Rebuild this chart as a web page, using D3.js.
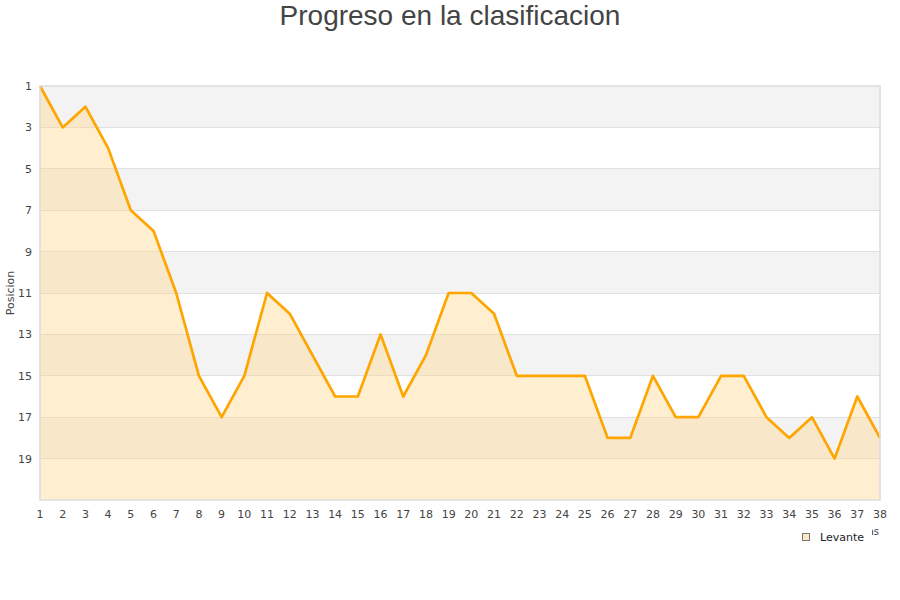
<!DOCTYPE html>
<html><head><meta charset="utf-8">
<script src="https://cdn.jsdelivr.net/npm/d3@7"></script>
<style>body{margin:0;background:#fff}svg{display:block}</style>
</head><body>
<svg id="c" width="900" height="600"></svg>
<script>
const jornadas = d3.range(1, 39);
const posiciones = [1,3,2,4,7,8,11,15,17,15,11,12,14,16,16,13,16,14,11,11,12,15,15,15,15,18,18,15,17,17,15,15,17,18,17,19,16,18];
const yTicks = [1,3,5,7,9,11,13,15,17,19];
const title = "Progreso en la clasificacion";
const seriesName = "Levante";

const svg = d3.select("#c");
const m = {l:40, r:880, t:86, b:500};
const x = d3.scaleLinear().domain([1,38]).range([m.l, m.r]);
const y = d3.scaleLinear().domain([1,21]).range([m.t, m.b]);

// bands
const bands = d3.range(1, 21, 2);
svg.selectAll("rect.band").data(bands).enter().append("rect")
  .attr("x", m.l).attr("width", m.r - m.l)
  .attr("y", d => y(d)).attr("height", d => y(d+2) - y(d))
  .attr("fill", (d,i) => i % 2 === 0 ? "#f3f3f3" : "#ffffff");

// grid
svg.selectAll("line.grid").data(yTicks.slice(1)).enter().append("line")
  .attr("x1", m.l).attr("x2", m.r).attr("y1", d => y(d)).attr("y2", d => y(d))
  .attr("stroke", "#e0e0e0").attr("stroke-width", 1).attr("shape-rendering","crispEdges");

const data = jornadas.map((j,i) => ({j, p: posiciones[i]}));
// area
svg.append("path").datum(data)
  .attr("d", d3.area().x(d => x(d.j)).y0(y(21)).y1(d => y(d.p)))
  .attr("fill", "#ffd88a").attr("fill-opacity", 0.4);
// line
svg.append("path").datum(data)
  .attr("d", d3.line().x(d => x(d.j)).y(d => y(d.p)))
  .attr("fill", "none").attr("stroke", "#ffa500").attr("stroke-width", 2.7).attr("stroke-linejoin","round");

// border
svg.append("rect").attr("x", m.l).attr("y", m.t).attr("width", m.r - m.l).attr("height", m.b - m.t)
  .attr("fill", "none").attr("stroke", "#dcdcdc").attr("stroke-width", 1.5);

const font = "'DejaVu Sans', Verdana, sans-serif";
// y labels
svg.selectAll("text.yl").data(yTicks).enter().append("text")
  .attr("x", 32).attr("y", d => y(d) + 4).attr("text-anchor","end")
  .attr("font-family", font).attr("font-size", 11).attr("fill", "#444").text(d => d);
// x labels
svg.selectAll("text.xl").data(jornadas).enter().append("text")
  .attr("x", d => x(d)).attr("y", 518).attr("text-anchor","middle")
  .attr("font-family", font).attr("font-size", 11).attr("fill", "#444").text(d => d);

// y title
svg.append("text").attr("transform", "translate(14,293) rotate(-90)").attr("text-anchor","middle")
  .attr("font-family", font).attr("font-size", 11).attr("fill", "#444").text("Posicion");

// x title (mostly hidden by legend)
svg.append("text").attr("x", 879).attr("y", 535).attr("text-anchor","end")
  .attr("font-family", font).attr("font-size", 10).attr("fill", "#444").text("Jornadas");

// legend
const lg = svg.append("g");
lg.append("rect").attr("x", 795).attr("y", 527).attr("width", 77).attr("height", 20).attr("fill", "#fff");
lg.append("rect").attr("x", 802.5).attr("y", 533.5).attr("width", 7).attr("height", 7)
  .attr("fill", "#fde9c6").attr("stroke", "#777").attr("stroke-width", 1);
lg.append("text").attr("x", 820).attr("y", 541).attr("font-family", font).attr("font-size", 11)
  .attr("fill", "#222").text(seriesName);

// title
svg.append("text").attr("x", 450).attr("y", 25).attr("text-anchor","middle")
  .attr("font-family", "'Liberation Sans', Arial, sans-serif").attr("font-size", 28).attr("fill", "#444").text(title);
</script>
</body></html>
